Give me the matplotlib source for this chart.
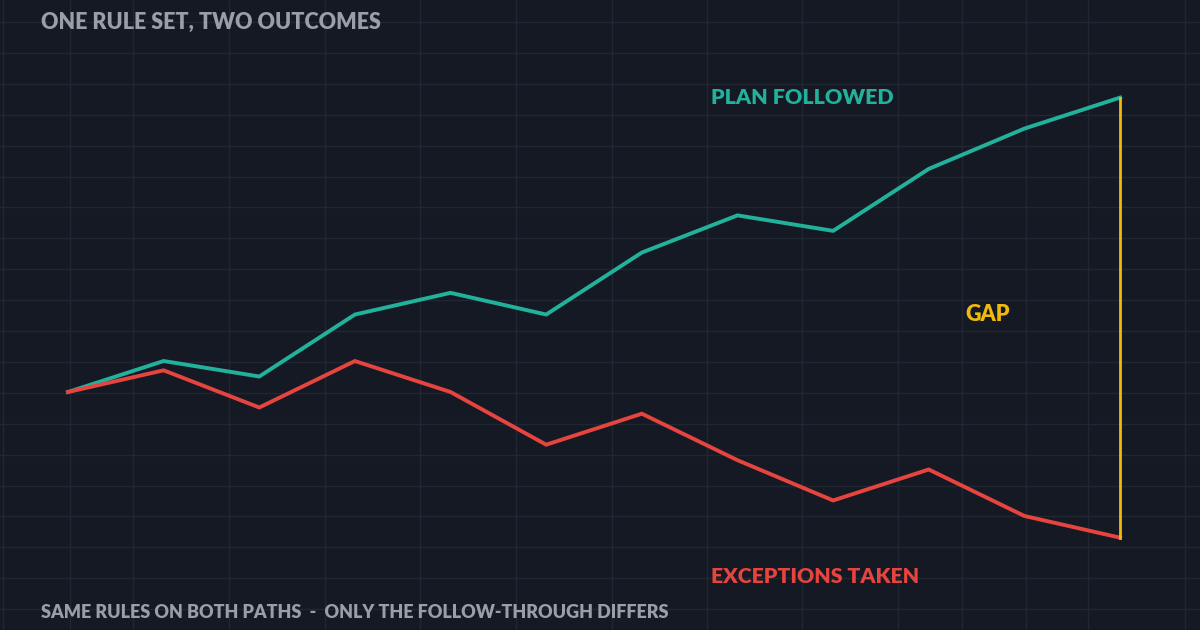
import matplotlib.pyplot as plt

steps = list(range(12))
plan_followed = [100, 110, 105, 125, 132, 125, 145, 157, 152, 172, 185, 195]
exceptions_taken = [100, 107, 95, 110, 100, 83, 93, 78, 65, 75, 60, 53]

title = "ONE RULE SET, TWO OUTCOMES"
footer = "SAME RULES ON BOTH PATHS  -  ONLY THE FOLLOW-THROUGH DIFFERS"

BG = "#151924"
GRID = "#212633"
TEAL = "#22b29b"
RED = "#e5443f"
GOLD = "#f0b90b"
GREY = "#9a9ea8"

fig = plt.figure(figsize=(12, 6.3), dpi=100)
fig.patch.set_facecolor(BG)

# background grid in pixel space
bg = fig.add_axes([0, 0, 1, 1])
bg.set_xlim(0, 1200)
bg.set_ylim(630, 0)
bg.axis("off")
for gx in [3, 70, 133, 229, 325, 420, 516, 612, 707, 802, 898, 962, 1026, 1088, 1185]:
    bg.axvline(gx, color=GRID, lw=1)
for k in range(21):
    bg.axhline(22 + k * 30.9, color=GRID, lw=1)

ax = fig.add_axes([0, 0, 1, 1])
ax.patch.set_alpha(0)
ax.axis("off")
ax.set_xlim(-0.711, 11.836)
ax.set_ylim(23.2, 226.5)

ax.plot(steps, plan_followed, color=TEAL, lw=2.8, solid_joinstyle="miter")
ax.plot(steps, exceptions_taken, color=RED, lw=2.8, solid_joinstyle="miter")
ax.plot([steps[-1], steps[-1]], [exceptions_taken[-1], plan_followed[-1]],
        color=GOLD, lw=2)

font = "Lato"
wt = "heavy"
ax.text(6.72, 195, "PLAN FOLLOWED", color=TEAL, fontsize=15.4,
        fontweight=wt, family=font, va="center", ha="left")
ax.text(6.72, 40.5, "EXCEPTIONS TAKEN", color=RED, fontsize=15.3,
        fontweight=wt, family=font, va="center", ha="left")
ax.text(9.38, 125, "GAP", color=GOLD, fontsize=15.5,
        fontweight=wt, family=font, va="center", ha="left")

fig.text(41 / 1200, 1 - 22 / 630, title, color=GREY, fontsize=15.5,
         fontweight=wt, family=font, va="center", ha="left")
fig.text(41 / 1200, 1 - 612 / 630, footer, color=GREY, fontsize=13.0,
         fontweight=wt, family=font, va="center", ha="left")

fig.savefig("out.png", dpi=100, facecolor=BG)
